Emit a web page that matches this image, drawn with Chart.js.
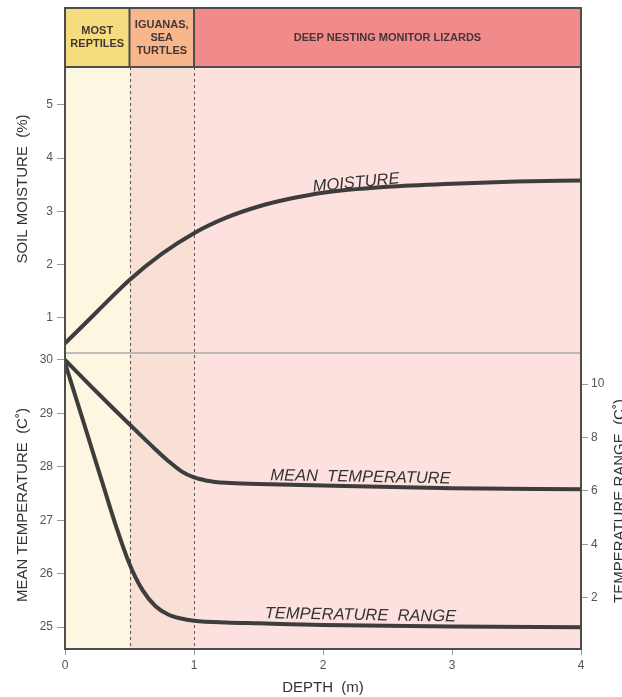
<!DOCTYPE html>
<html>
<head>
<meta charset="utf-8">
<script src="https://cdn.jsdelivr.net/npm/chart.js@4.4.1/dist/chart.umd.min.js"></script>
<style>
  html, body { margin: 0; padding: 0; background: #fff; }
  #wrap { width: 622px; height: 697px; }
</style>
</head>
<body>
<div id="wrap"><canvas id="chart"></canvas></div>
<script>
// values
const depthMoist = [0, 0.25, 0.5, 0.75, 1, 1.25, 1.5, 1.75, 2, 2.5, 3, 3.5, 4];
const moisture   = [0.52, 1.12, 1.71, 2.2, 2.59, 2.88, 3.09, 3.24, 3.35, 3.46, 3.52, 3.56, 3.58];

const depthTemp = [0, 0.2, 0.4, 0.6, 0.7, 0.8, 0.9, 1, 1.1, 1.25, 1.5, 2, 3, 4];
const meanTemp  = [30, 29.51, 29.03, 28.56, 28.33, 28.11, 27.92, 27.8, 27.74, 27.7, 27.68, 27.65, 27.6, 27.58];

const depthRange = [0, 0.1, 0.2, 0.3, 0.4, 0.5, 0.6, 0.7, 0.8, 0.9, 1, 1.25, 1.5, 2, 3, 4];
const tempRange  = [10.79, 9.25, 7.7, 6.15, 4.62, 3.27, 2.3, 1.7, 1.38, 1.23, 1.15, 1.08, 1.05, 0.99, 0.93, 0.9];

const depthTicks = [0, 1, 2, 3, 4];
const moistTicks = [1, 2, 3, 4, 5];
const tempTicks  = [25, 26, 27, 28, 29, 30];
const rangeTicks = [2, 4, 6, 8, 10];

const zoneEdges  = [0, 0.5, 1, 4];
const zoneLabels = [['MOST', 'REPTILES'], ['IGUANAS,', 'SEA', 'TURTLES'], ['DEEP NESTING MONITOR LIZARDS']];

const headColours = ['#f4dc7f', '#f7b68b', '#f18a8a'];
const bandColours = ['#fdf7e1', '#f9e0d4', '#fde1df'];
const INK = '#3d3d3d';
const FONT = "'Liberation Sans', Arial, sans-serif";

Chart.defaults.font.family = FONT;

const pts = (xs, ys) => xs.map((d, i) => ({ x: d, y: ys[i] }));
const fixTicks = list => scale => { scale.ticks = list.map(v => ({ value: v })); };
const line = (data, axis) => ({
  data, yAxisID: axis, borderColor: INK, borderWidth: 4, pointRadius: 0,
  fill: false, cubicInterpolationMode: 'monotone', borderCapStyle: 'round', borderJoinStyle: 'round'
});

const tickFont = { size: 12 };
const yBase = {
  grid: { drawOnChartArea: false, color: '#999', tickLength: 8 },
  border: { display: false },
  ticks: { color: '#555', font: tickFont, padding: 4 }
};

function rotText(ctx, text, x, y, ang) {
  ctx.save();
  ctx.translate(x, y);
  ctx.rotate(ang);
  ctx.fillText(text, 0, 0);
  ctx.restore();
}

const decor = {
  id: 'decor',
  beforeDatasetsDraw(chart) {
    const { ctx, chartArea: a, scales: { x, yM } } = chart;
    ctx.save();
    for (let i = 0; i < bandColours.length; i++) {
      const x0 = x.getPixelForValue(zoneEdges[i]), x1 = x.getPixelForValue(zoneEdges[i + 1]);
      ctx.fillStyle = bandColours[i];
      ctx.fillRect(x0, a.top, x1 - x0, a.height);
    }
    ctx.strokeStyle = '#a9a9a9';
    ctx.lineWidth = 1.5;
    ctx.beginPath();
    ctx.moveTo(a.left, yM.bottom);
    ctx.lineTo(a.right, yM.bottom);
    ctx.stroke();
    ctx.strokeStyle = '#555';
    ctx.lineWidth = 1;
    ctx.setLineDash([3, 3]);
    for (let i = 1; i < zoneEdges.length - 1; i++) {
      const px = Math.round(x.getPixelForValue(zoneEdges[i])) + 0.5;
      ctx.beginPath();
      ctx.moveTo(px, a.top);
      ctx.lineTo(px, a.bottom);
      ctx.stroke();
    }
    ctx.restore();
  },
  afterDatasetsDraw(chart) {
    const { ctx, chartArea: a, scales: { x, yM, yT, yR } } = chart;
    ctx.save();

    // header boxes
    const hTop = a.top - 59, hMid = hTop + 29.5;
    for (let i = 0; i < headColours.length; i++) {
      const x0 = x.getPixelForValue(zoneEdges[i]), x1 = x.getPixelForValue(zoneEdges[i + 1]);
      ctx.fillStyle = headColours[i];
      ctx.fillRect(x0, hTop, x1 - x0, 59);
      ctx.fillStyle = '#463535';
      ctx.font = 'bold 11px ' + FONT;
      ctx.textAlign = 'center';
      ctx.textBaseline = 'middle';
      const lines = zoneLabels[i];
      lines.forEach((t, k) => {
        ctx.fillText(t, (x0 + x1) / 2, hMid + (k - (lines.length - 1) / 2) * 13);
      });
    }
    ctx.strokeStyle = '#4d4d4d';
    ctx.lineWidth = 2;
    ctx.strokeRect(a.left, hTop, a.width, 59);
    for (let i = 1; i < zoneEdges.length - 1; i++) {
      const px = x.getPixelForValue(zoneEdges[i]);
      ctx.beginPath();
      ctx.moveTo(px, hTop);
      ctx.lineTo(px, a.top);
      ctx.stroke();
    }
    ctx.strokeRect(a.left, a.top, a.width, a.height);

    // curve labels
    ctx.fillStyle = '#333';
    ctx.font = 'italic 16.5px ' + FONT;
    ctx.textAlign = 'center';
    ctx.textBaseline = 'alphabetic';
    const deg = Math.PI / 180;
    rotText(ctx, 'MOISTURE', x.getPixelForValue(2.26), yM.getPixelForValue(3.45), -5.5 * deg);
    rotText(ctx, 'MEAN  TEMPERATURE', x.getPixelForValue(2.29), yT.getPixelForValue(27.72), 1 * deg);
    rotText(ctx, 'TEMPERATURE  RANGE', x.getPixelForValue(2.29), yR.getPixelForValue(1.18), 1 * deg);

    // axis titles
    ctx.font = '15px ' + FONT;
    ctx.fillStyle = '#333';
    rotText(ctx, 'SOIL MOISTURE  (%)', 26.5, (yM.top + yM.bottom) / 2 - 21, -Math.PI / 2);
    rotText(ctx, 'MEAN TEMPERATURE  (C\u02DA)', 26.5, (yT.top + yT.bottom) / 2 + 4, -Math.PI / 2);
    rotText(ctx, 'TEMPERATURE RANGE  (C\u02DA)', 624, (yR.top + yR.bottom) / 2, -Math.PI / 2);
    ctx.restore();
  }
};

new Chart(document.getElementById('chart'), {
  type: 'line',
  data: {
    datasets: [
      line(pts(depthMoist, moisture), 'yM'),
      line(pts(depthTemp, meanTemp), 'yT'),
      line(pts(depthRange, tempRange), 'yR')
    ]
  },
  options: {
    responsive: true,
    maintainAspectRatio: false,
    animation: false,
    layout: { padding: { top: 67, left: 0, right: 0, bottom: 0 } },
    plugins: { legend: { display: false }, tooltip: { enabled: false } },
    scales: {
      x: {
        type: 'linear', min: 0, max: 4,
        grid: { drawOnChartArea: false, color: '#999', tickLength: 6 },
        border: { display: false },
        ticks: { color: '#555', font: tickFont, padding: 3 },
        afterBuildTicks: fixTicks(depthTicks),
        afterFit: s => { s.height = 48; },
        title: { display: true, text: 'DEPTH  (m)', color: '#333', font: { size: 15 }, padding: { top: 0, bottom: 0 } }
      },
      yT: Object.assign({}, yBase, {
        position: 'left', stack: 'left', stackWeight: 296,
        min: 24.59, max: 30.13,
        afterBuildTicks: fixTicks(tempTicks),
        afterFit: s => { s.width = 65; }
      }),
      yM: Object.assign({}, yBase, {
        position: 'left', stack: 'left', stackWeight: 286,
        min: 0.34, max: 5.71,
        afterBuildTicks: fixTicks(moistTicks),
        afterFit: s => { s.width = 65; }
      }),
      yRtop: { position: 'right', stack: 'right', stackWeight: 286, display: false },
      yR: Object.assign({}, yBase, {
        position: 'right', stack: 'right', stackWeight: 296,
        min: 0.09, max: 11.16,
        grid: { drawOnChartArea: false, color: '#999', tickLength: 7 },
        ticks: { color: '#555', font: tickFont, padding: 3 },
        afterBuildTicks: fixTicks(rangeTicks),
        afterFit: s => { s.width = 41; }
      })
    }
  },
  plugins: [decor]
});
</script>
</body>
</html>
